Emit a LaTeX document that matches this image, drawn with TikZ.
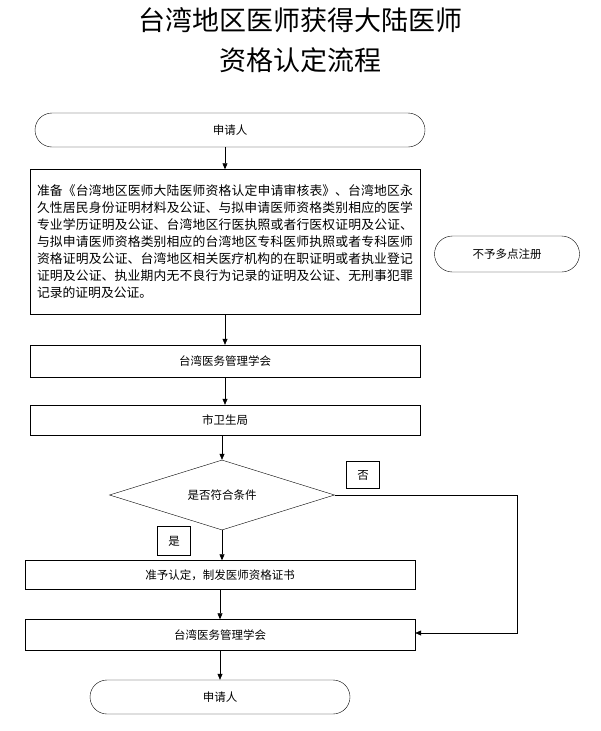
\documentclass[tikz,border=0pt]{standalone}
\usepackage{fontspec}
\setmainfont{Noto Sans CJK SC}
\XeTeXlinebreaklocale "zh"
\XeTeXlinebreakskip=0pt plus 1pt
\usetikzlibrary{shapes.geometric,shapes.misc,arrows.meta}
\begin{document}
\begin{tikzpicture}[x=1pt,y=-1pt,font=\fontsize{11.5}{17}\selectfont,
  term style/.style={shape=rounded rectangle,draw=black,minimum height=34pt,inner sep=0pt},
  box style/.style={shape=rectangle,draw=black,inner sep=0pt},
  flow/.style={-{Triangle[length=6pt,width=5pt]},line width=0.6pt}]
\useasboundingbox (0,0) rectangle (600,731);

\node at (300,20) {\fontsize{27}{30}\selectfont 台湾地区医师获得大陆医师};
\node at (300,60) {\fontsize{27}{30}\selectfont 资格认定流程};

\node[term style, minimum width=390pt] at (230,130) (start) {申请人};
\node[box style, minimum width=390pt, minimum height=145pt] at (225,242) (docs) {};
\node[text width=376pt, align=justify, inner sep=0pt] at (225,242)
  {\fontsize{12.8}{16.8}\selectfont 准备《台湾地区医师大陆医师资格认定申请审核表》、台湾地区永久性居民身份证明材料及公证、与拟申请医师资格类别相应的医学专业学历证明及公证、台湾地区行医执照或者行医权证明及公证、与拟申请医师资格类别相应的台湾地区专科医师执照或者专科医师资格证明及公证、台湾地区相关医疗机构的在职证明或者执业登记证明及公证、执业期内无不良行为记录的证明及公证、无刑事犯罪记录的证明及公证。};
\node[term style, minimum width=145pt, minimum height=36pt] at (507,254) (reject) {不予多点注册};
\node[box style, minimum width=390pt, minimum height=32pt] at (225,361) (assoc1) {台湾医务管理学会};
\node[box style, minimum width=390pt, minimum height=30pt] at (225,420) (bureau) {市卫生局};
\node[draw=black, shape=diamond, aspect=3.2, minimum width=225pt, minimum height=70pt, inner sep=0pt] at (222,495) (check) {是否符合条件};
\node[box style, minimum width=33pt, minimum height=27pt] at (363,475) (no) {否};
\node[box style, minimum width=33pt, minimum height=29pt] at (174,541) (yes) {是};
\node[box style, minimum width=390pt, minimum height=29pt] at (220,575) (grant) {准予认定，制发医师资格证书};
\node[box style, minimum width=390pt, minimum height=31pt] at (220,635) (assoc2) {台湾医务管理学会};
\node[term style, minimum width=260pt] at (220,697) (end) {申请人};
\coordinate (turn1) at (517,495);
\coordinate (turn2) at (517,633);

\draw[flow] (start.south -| docs.north) -- (docs.north);
\draw[flow] (docs.south) -- (assoc1.north);
\draw[flow] (assoc1.south) -- (bureau.north);
\draw[flow] (bureau.south -| check.north) -- (check.north);
\draw[flow] (check.south) -- (check.south |- grant.north);
\draw[flow] (grant.south) -- (assoc2.north);
\draw[flow] (assoc2.south) -- (end.north);
\draw[flow] (check.east) -- (turn1) -- (turn2) -- (assoc2.east |- turn2);
\end{tikzpicture}
\end{document}
